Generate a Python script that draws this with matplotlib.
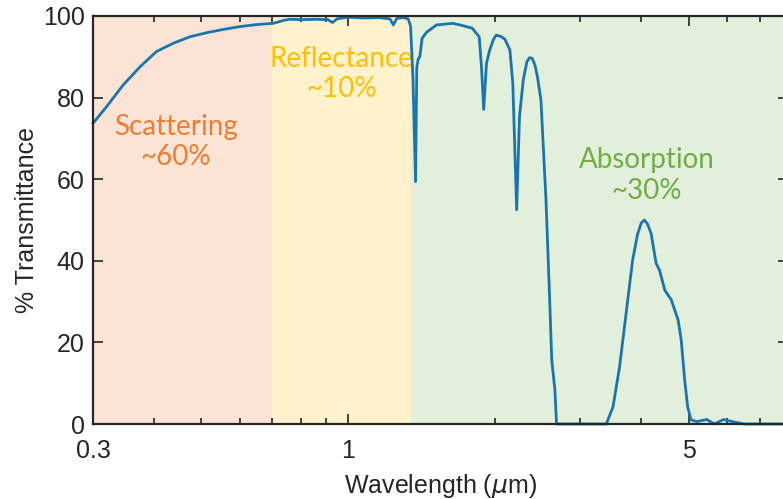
import matplotlib
matplotlib.use("Agg")
import matplotlib.pyplot as plt
from matplotlib.ticker import NullFormatter

# Atmospheric transmittance spectrum (wavelength in micrometres, % transmittance)
wavelength = [0.300, 0.320, 0.346, 0.375, 0.405, 0.438, 0.474, 0.513, 0.555, 0.600,
              0.650, 0.703, 0.737, 0.760, 0.80, 0.86, 0.91, 0.93, 0.95, 1.00, 1.08,
              1.16, 1.22, 1.24, 1.26, 1.30, 1.33, 1.345, 1.36, 1.377, 1.385, 1.395,
              1.405, 1.42, 1.45, 1.52, 1.64, 1.70, 1.80, 1.86, 1.88, 1.90, 1.925,
              1.955, 1.99, 2.016, 2.06, 2.10, 2.15, 2.18, 2.22, 2.25, 2.29, 2.33,
              2.36, 2.39, 2.42, 2.45, 2.49, 2.55, 2.595, 2.62, 2.66, 2.68, 3.00,
              3.39, 3.50, 3.61, 3.73, 3.84, 3.93, 4.00, 4.06, 4.12, 4.19, 4.29,
              4.36, 4.47, 4.61, 4.76, 4.83, 4.91, 4.98, 5.06, 5.20, 5.45, 5.65,
              5.90, 6.20, 6.50, 8.00]
transmittance = [73.7, 77.8, 83.1, 87.6, 91.3, 93.3, 94.9, 95.9, 96.7, 97.4,
                 97.9, 98.2, 98.9, 99.2, 99.1, 99.2, 99.1, 98.4, 99.3, 99.7, 99.5,
                 99.6, 99.3, 97.8, 99.4, 99.6, 99.3, 97.5, 85.0, 59.4, 87.5, 89.5,
                 90.0, 94.5, 96.0, 97.8, 98.2, 97.8, 97.0, 94.9, 87.6, 77.1, 88.4,
                 91.7, 94.3, 95.3, 95.0, 94.3, 91.7, 83.5, 52.5, 75.3, 84.3, 88.8,
                 89.8, 89.6, 88.0, 85.0, 79.4, 54.9, 30.4, 15.7, 8.3, 0.0, 0.0,
                 0.0, 4.2, 14.0, 27.9, 40.2, 46.5, 49.3, 50.0, 49.0, 46.7, 39.4,
                 37.7, 32.8, 30.4, 25.5, 20.6, 10.8, 4.2, 1.0, 0.6, 1.1, 0.0,
                 1.1, 0.5, 0.0, 0.0]

# Spectral regions and their labels
region_edges = [0.3, 0.7, 1.35, 8.0]
region_fill = ["#FBE4D6", "#FFF2CC", "#E2EFDA"]
region_labels = ["Scattering\n~60%", "Reflectance\n~10%", "Absorption\n~30%"]
region_text_colors = ["#ED7D31", "#FFC000", "#70AD47"]
label_x = [0.444, 0.970, 4.10]
label_y = [69.2, 85.7, 60.9]

x_major = [0.3, 1, 5]
x_major_labels = ["0.3", "1", "5"]
x_minor = [0.4, 0.5, 0.6, 0.7, 0.8, 0.9, 2, 3, 4, 6, 7, 8]
y_ticks = [0, 20, 40, 60, 80, 100]

W, H = 783, 499
fig = plt.figure(figsize=(W / 100, H / 100), dpi=100)
ax = fig.add_axes([93 / W, 75 / H, 695 / W, 408 / H])

for i in range(3):
    ax.axvspan(region_edges[i], region_edges[i + 1], color=region_fill[i], lw=0, zorder=0)
    ax.text(label_x[i], label_y[i], region_labels[i], color=region_text_colors[i],
            fontsize=20, family="Lato", ha="center", va="center", linespacing=1.2, zorder=2)

ax.plot(wavelength, transmittance, color="#1A75AE", lw=2.0, zorder=3, clip_on=False,
        solid_joinstyle="round")

ax.set_xscale("log")
ax.set_xlim(0.3, 8.0)
ax.set_ylim(0, 100)
ax.set_xticks(x_major)
ax.set_xticklabels(x_major_labels)
ax.set_xticks(x_minor, minor=True)
ax.xaxis.set_minor_formatter(NullFormatter())
ax.set_yticks(y_ticks)

axis_color = "#262626"
for s in ax.spines.values():
    s.set_color(axis_color)
    s.set_linewidth(1.6)
    s.set_zorder(4)
ax.tick_params(which="both", direction="in", top=True, right=True, colors=axis_color,
               labelcolor=axis_color, labelsize=18, width=1.2)
ax.tick_params(which="major", length=7)
ax.tick_params(which="minor", length=4)
ax.tick_params(axis="x", which="major", pad=11)
ax.tick_params(axis="y", which="major", pad=6)
for lab in ax.get_xticklabels() + ax.get_yticklabels():
    lab.set_family("Liberation Sans")

ax.set_xlabel(r"Wavelength ($\mu$m)", fontsize=18, family="Liberation Sans",
              color=axis_color, labelpad=6)
ax.set_ylabel("% Transmittance", fontsize=18, family="Liberation Sans",
              color=axis_color, labelpad=3)

fig.savefig("out.png", dpi=100)
